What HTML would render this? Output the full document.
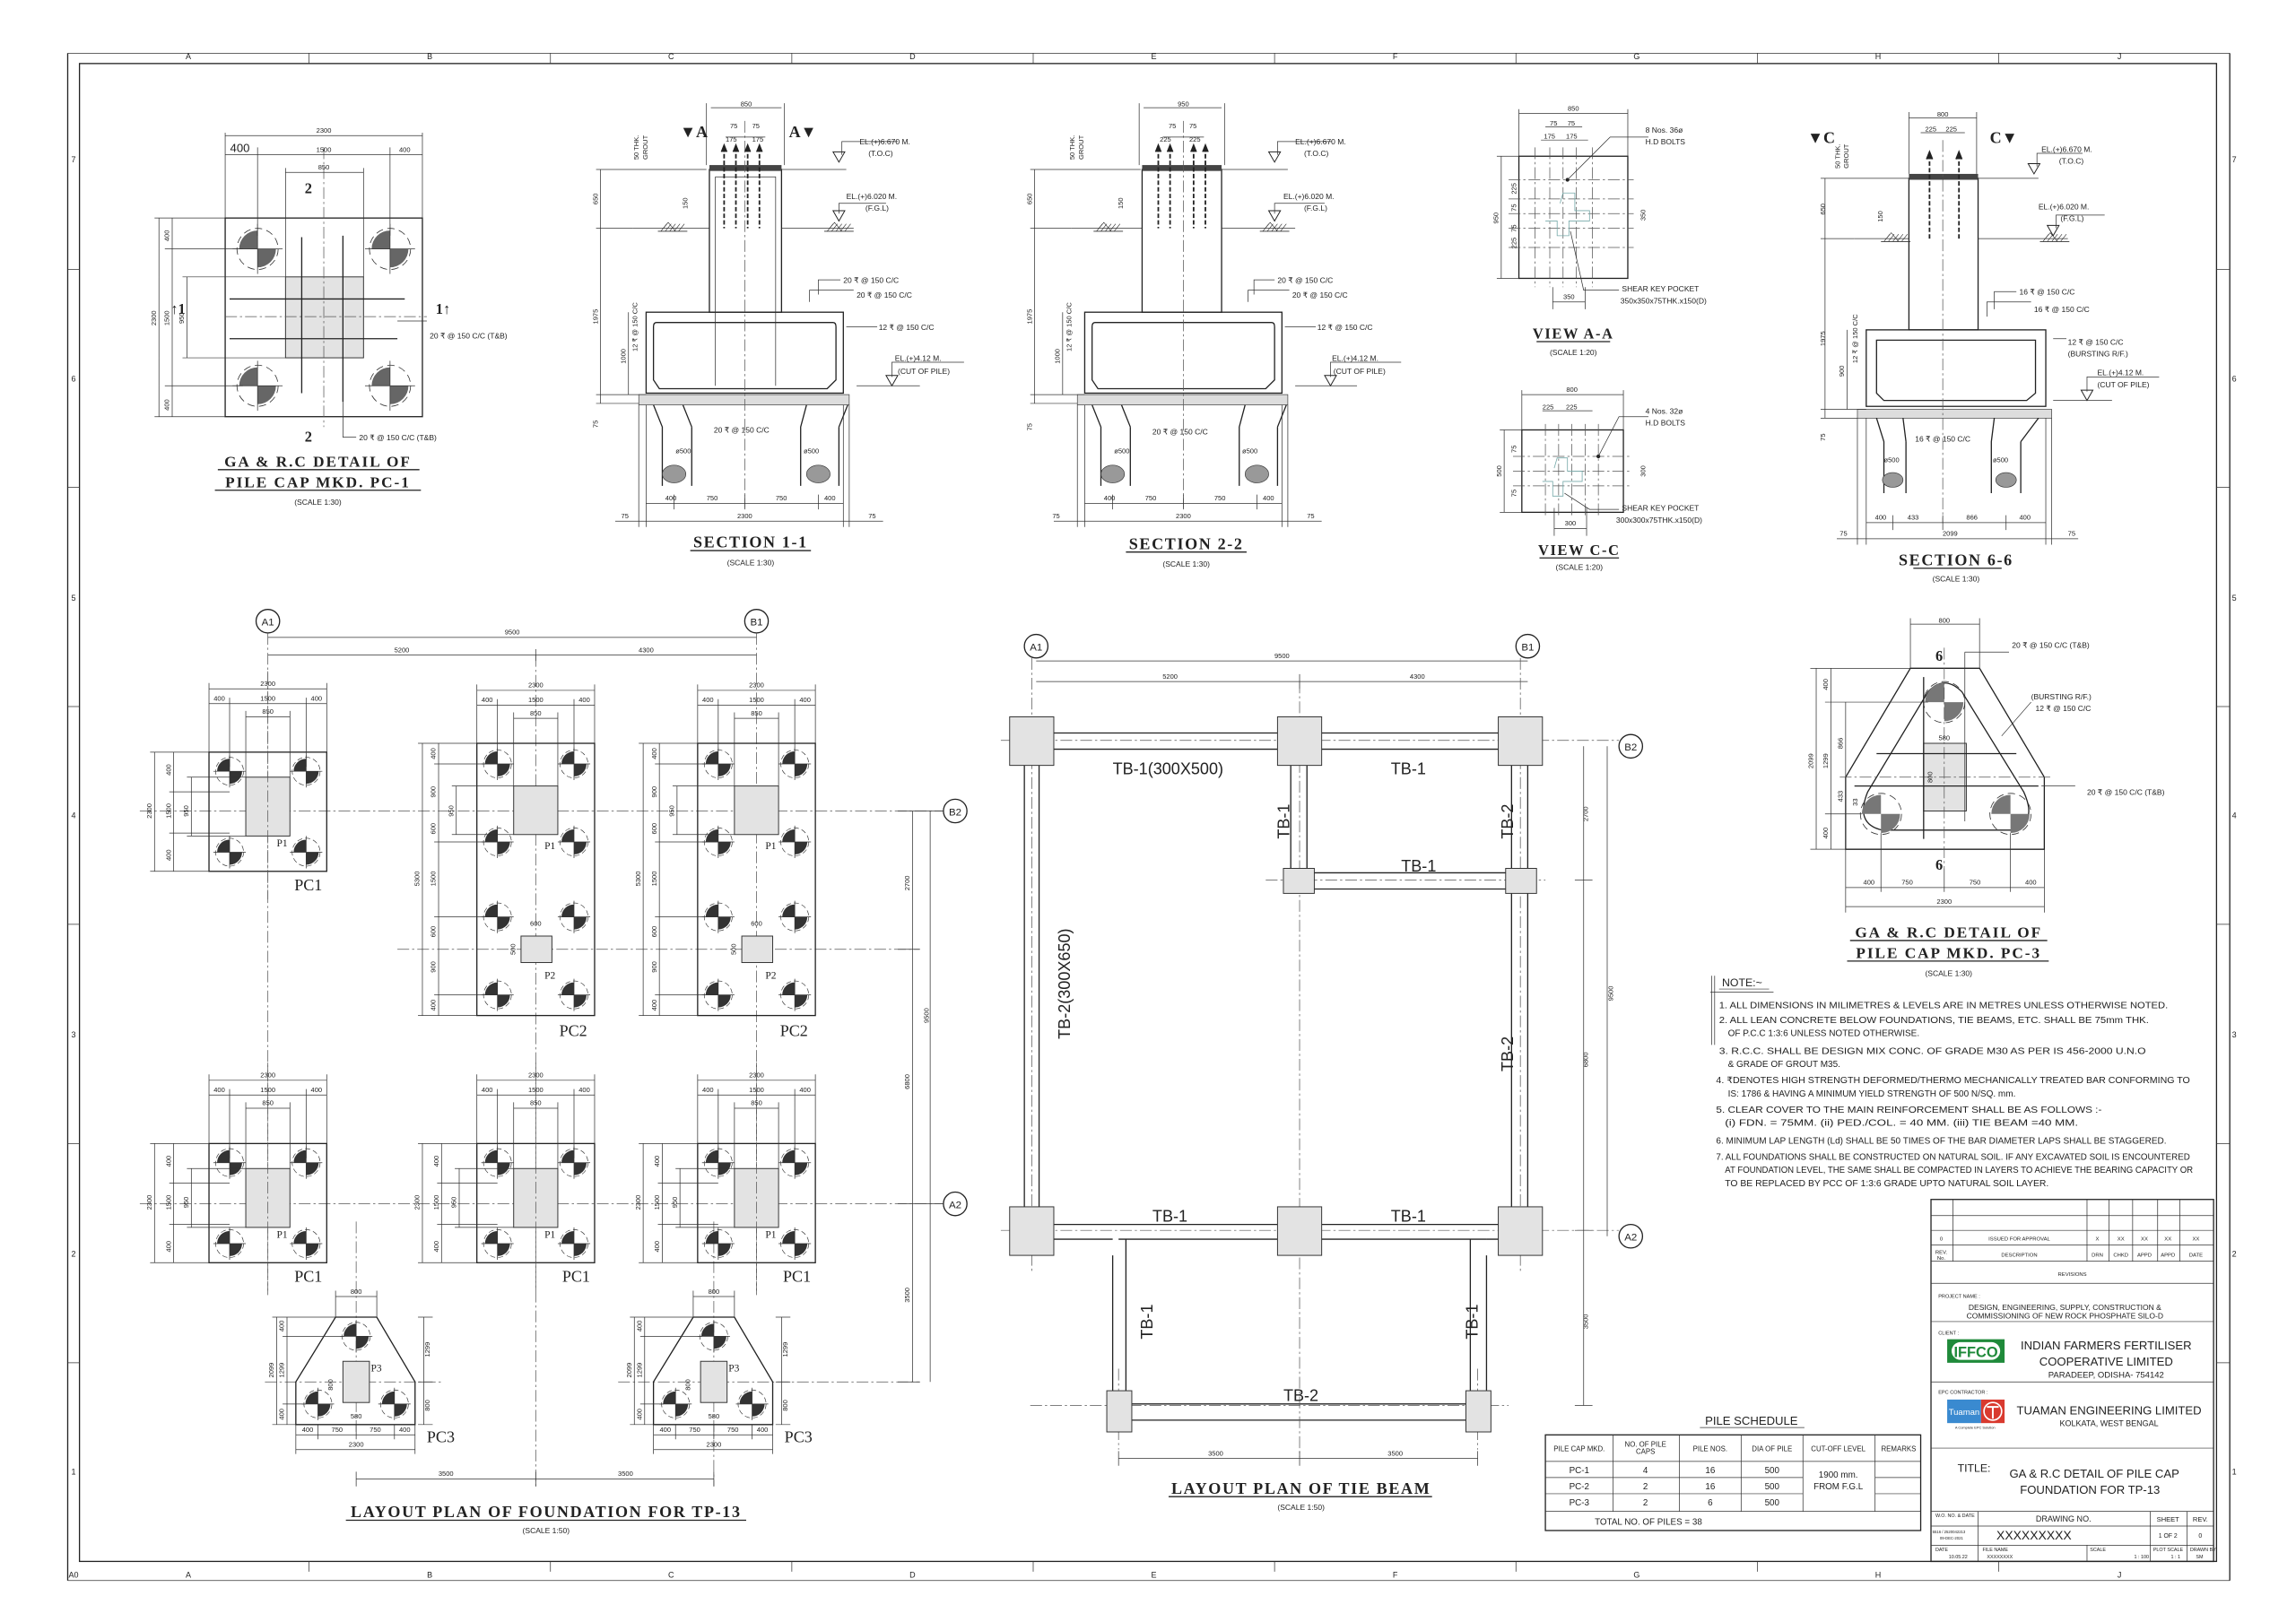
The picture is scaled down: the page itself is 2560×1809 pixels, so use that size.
<!DOCTYPE html>
<html><head><meta charset="utf-8"><style>
html,body{margin:0;padding:0;background:#fff;}
svg{display:block;}
text{font-family:"Liberation Sans",sans-serif;fill:#222;}
.s{font-family:"Liberation Serif",serif;}
.ln{stroke:#222;stroke-width:.8;fill:none;}
.th{stroke:#333;stroke-width:.45;fill:none;}
.cl{stroke:#555;stroke-width:.45;fill:none;stroke-dasharray:8 2 1.5 2;}
.dsh{stroke:#444;stroke-width:.5;fill:none;stroke-dasharray:3 2;}
.col{fill:#e3e3e3;stroke:#333;stroke-width:.6;}
.d{font-size:4.6px;}
.t{font-size:5.2px;}
</style></head><body>
<svg width="2560" height="1809" viewBox="0 0 1560 1102" xmlns="http://www.w3.org/2000/svg">
<defs>
<g id="pl"><circle r="14" fill="none" stroke="#333" stroke-width=".5" stroke-dasharray="5 3"/><path d="M0,0H-12.5A12.5,12.5 0 0 1 0,-12.5Z M0,0H12.5A12.5,12.5 0 0 1 0,12.5Z" fill="#666"/><path d="M-17,0H17M0,-17V17" stroke="#333" stroke-width=".45"/></g>
<g id="plS"><circle r="9.5" fill="none" stroke="#333" stroke-width=".4" stroke-dasharray="3.5 2"/><path d="M0,0H-8.5A8.5,8.5 0 0 1 0,-8.5Z M0,0H8.5A8.5,8.5 0 0 1 0,8.5Z" fill="#333"/><path d="M-11,0H11M0,-11V11" stroke="#333" stroke-width=".45"/></g>
<g id="hat"><path d="M-10,0H10" stroke="#333" stroke-width=".5"/><path d="M-8,0L-4,-5M-5,0L-1,-5M-2,0L2,-5M1,0L5,-5M4,0L8,-5M-8,0L-3,-6L2,0" stroke="#333" stroke-width=".4" fill="none"/></g>
<g id="pc1">
<rect x="-40" y="-40" width="80" height="81" class="ln"/>
<rect x="-15" y="-23" width="30" height="40" class="col"/>
<use href="#plS" x="-26" y="-27"/><use href="#plS" x="26" y="-27"/><use href="#plS" x="-26" y="28"/><use href="#plS" x="26" y="28"/>
<path d="M0,-95V60" class="cl"/>
<path d="M-40,-83H40M-40,-73H40M-15,-64H15M-40,-87V-40M40,-87V-40M-26,-77V-30M26,-77V-30M-15,-68V-23M15,-68V-23" class="th"/>
<text x="0" y="-85" class="d" text-anchor="middle">2300</text>
<text x="0" y="-75" class="d" text-anchor="middle">1500</text>
<text x="-33" y="-75" class="d" text-anchor="middle">400</text><text x="33" y="-75" class="d" text-anchor="middle">400</text>
<text x="0" y="-66" class="d" text-anchor="middle">850</text>
<path d="M-77,-40V41M-64,-40V41M-52,-23V17M-80,-40H-40M-80,41H-40M-67,-13H-26M-67,15H-26M-55,-23H-15M-55,17H-15" class="th"/>
<text transform="translate(-79,0) rotate(-90)" class="d" text-anchor="middle">2300</text>
<text transform="translate(-66,0) rotate(-90)" class="d" text-anchor="middle">1500</text>
<text transform="translate(-54,0) rotate(-90)" class="d" text-anchor="middle">950</text>
<text transform="translate(-66,-28) rotate(-90)" class="d" text-anchor="middle">400</text>
<text transform="translate(-66,30) rotate(-90)" class="d" text-anchor="middle">400</text>
<text x="6" y="24" class="s" font-size="7">P1</text>
</g>
<g id="pc2">
<rect x="-40" y="0" width="80" height="185" class="ln"/>
<rect x="-15" y="29" width="30" height="33" class="col"/>
<rect x="-10" y="131" width="21" height="18" class="col"/>
<use href="#plS" x="-26" y="14"/><use href="#plS" x="26" y="14"/><use href="#plS" x="-26" y="67"/><use href="#plS" x="26" y="67"/>
<use href="#plS" x="-26" y="118"/><use href="#plS" x="26" y="118"/><use href="#plS" x="-26" y="171"/><use href="#plS" x="26" y="171"/>
<path d="M-40,-36H40M-40,-26H40M-15,-17H15M-40,-40V0M40,-40V0M-26,-30V5M26,-30V5M-15,-21V29M15,-21V29" class="th"/>
<text x="0" y="-38" class="d" text-anchor="middle">2300</text><text x="0" y="-28" class="d" text-anchor="middle">1500</text>
<text x="-33" y="-28" class="d" text-anchor="middle">400</text><text x="33" y="-28" class="d" text-anchor="middle">400</text>
<text x="0" y="-19" class="d" text-anchor="middle">850</text>
<text x="0" y="124" class="d" text-anchor="middle">600</text>
<path d="M-77,0V185M-66,0V185M-54,29V62M-80,0H-40M-80,185H-40M-69,14H-26M-69,67H-26M-69,118H-26M-69,171H-26M-57,29H-15M-57,62H-15" class="th"/>
<text transform="translate(-79,92) rotate(-90)" class="d" text-anchor="middle">5300</text>
<text transform="translate(-68,92) rotate(-90)" class="d" text-anchor="middle">1500</text>
<text transform="translate(-68,7) rotate(-90)" class="d" text-anchor="middle">400</text>
<text transform="translate(-68,33) rotate(-90)" class="d" text-anchor="middle">900</text>
<text transform="translate(-68,58) rotate(-90)" class="d" text-anchor="middle">600</text>
<text transform="translate(-68,128) rotate(-90)" class="d" text-anchor="middle">600</text>
<text transform="translate(-68,152) rotate(-90)" class="d" text-anchor="middle">900</text>
<text transform="translate(-68,178) rotate(-90)" class="d" text-anchor="middle">400</text>
<text transform="translate(-56,46) rotate(-90)" class="d" text-anchor="middle">950</text>
<text transform="translate(-14,140) rotate(-90)" class="d" text-anchor="middle">500</text>
<text x="6" y="72" class="s" font-size="7">P1</text>
<text x="6" y="160" class="s" font-size="7">P2</text>
<text x="16" y="199" class="s" font-size="11">PC2</text>
</g>
<g id="pc3">
<path d="M-14,0H14L40,44V73H-41V44Z" class="ln"/>
<rect x="-9" y="30" width="18" height="28" class="col"/>
<use href="#plS" x="0" y="13"/><use href="#plS" x="-26" y="59"/><use href="#plS" x="26" y="59"/>
<path d="M-14,-14H14M-14,-18V0M14,-18V0" class="th"/>
<text x="0" y="-16" class="d" text-anchor="middle">800</text>
<path d="M-54,0V73M-47,0V73M-57,0H-14M-57,73H-41M-50,13H-8M-50,59H-34M46,0V73M42,0H52M42,44H52M42,73H52" class="th"/>
<text transform="translate(-56,36) rotate(-90)" class="d" text-anchor="middle">2099</text>
<text transform="translate(-49,36) rotate(-90)" class="d" text-anchor="middle">1299</text>
<text transform="translate(-49,6) rotate(-90)" class="d" text-anchor="middle">400</text>
<text transform="translate(-49,66) rotate(-90)" class="d" text-anchor="middle">400</text>
<text transform="translate(50,22) rotate(-90)" class="d" text-anchor="middle">1299</text>
<text transform="translate(50,60) rotate(-90)" class="d" text-anchor="middle">800</text>
<text transform="translate(-16,46) rotate(-90)" class="d" text-anchor="middle">800</text>
<path d="M-41,80H40M-41,90H40M-41,73V93M40,73V93M-26,73V83M0,73V83M26,73V83" class="th"/>
<text x="-33" y="78" class="d" text-anchor="middle">400</text><text x="-13" y="78" class="d" text-anchor="middle">750</text>
<text x="13" y="78" class="d" text-anchor="middle">750</text><text x="33" y="78" class="d" text-anchor="middle">400</text>
<text x="0" y="88" class="d" text-anchor="middle">2300</text>
<text x="0" y="69" class="d" text-anchor="middle">580</text>
<text x="10" y="37" class="s" font-size="7">P3</text>
<text x="48" y="85" class="s" font-size="11">PC3</text>
</g>
</defs>

<path d="M46,36V1074" class="ln"/>
<path d="M1515,36V1074" class="ln"/>
<rect x="54" y="43" width="1452" height="1018" class="ln" stroke-width="1"/>
<path d="M46,36H1515M46,1074H1515" class="th"/>
<path d="M210,36V43M374,36V43M538,36V43M702,36V43M866,36V43M1030,36V43M1194,36V43M1358,36V43M210,1061V1068M374,1061V1068M538,1061V1068M702,1061V1068M866,1061V1068M1030,1061V1068M1194,1061V1068M1358,1061V1068" class="th"/>
<path d="M46,183H54M46,331H54M46,480H54M46,628H54M46,777H54M46,926H54M1506,183H1515M1506,331H1515M1506,480H1515M1506,628H1515M1506,777H1515M1506,926H1515" class="th"/>
<g font-size="5.5" text-anchor="middle">
<text x="128" y="40">A</text><text x="292" y="40">B</text><text x="456" y="40">C</text><text x="620" y="40">D</text><text x="784" y="40">E</text><text x="948" y="40">F</text><text x="1112" y="40">G</text><text x="1276" y="40">H</text><text x="1440" y="40">J</text>
<text x="128" y="1072">A</text><text x="292" y="1072">B</text><text x="456" y="1072">C</text><text x="620" y="1072">D</text><text x="784" y="1072">E</text><text x="948" y="1072">F</text><text x="1112" y="1072">G</text><text x="1276" y="1072">H</text><text x="1440" y="1072">J</text>
<text x="50" y="110">7</text><text x="50" y="259">6</text><text x="50" y="408">5</text><text x="50" y="556">4</text><text x="50" y="705">3</text><text x="50" y="854">2</text><text x="50" y="1002">1</text>
<text x="1518" y="110">7</text><text x="1518" y="259">6</text><text x="1518" y="408">5</text><text x="1518" y="556">4</text><text x="1518" y="705">3</text><text x="1518" y="854">2</text><text x="1518" y="1002">1</text>
<text x="50" y="1072">A0</text>
</g>

<g>
<rect x="153" y="148" width="134" height="135" class="ln"/>
<rect x="194" y="188" width="53" height="55" class="col"/>
<use href="#pl" x="175" y="169"/><use href="#pl" x="265" y="169"/><use href="#pl" x="175" y="262"/><use href="#pl" x="265" y="262"/>
<path d="M153,215H290M220,100V290" class="cl"/>
<path d="M156,203H275M205,161V267M156,230H270M233,160V273" class="ln" stroke-width=".9"/>
<path d="M153,92H287M153,105H287M194,117H247M153,90V148M287,90V148M175,100V160M265,100V160M194,114V188M247,114V188" class="th"/>
<text x="220" y="90" class="d" text-anchor="middle">2300</text><text x="220" y="103" class="d" text-anchor="middle">1500</text>
<text x="163" y="103" font-size="8" text-anchor="middle">400</text><text x="275" y="103" class="d" text-anchor="middle">400</text>
<text x="220" y="115" class="d" text-anchor="middle">850</text>
<path d="M108,148V283M117,148V283M127,188V243M105,148H153M105,283H153M112,169H165M112,262H165M124,188H194M124,243H194" class="th"/>
<text transform="translate(106,216) rotate(-90)" class="d" text-anchor="middle">2300</text>
<text transform="translate(115,216) rotate(-90)" class="d" text-anchor="middle">1500</text>
<text transform="translate(125,216) rotate(-90)" class="d" text-anchor="middle">950</text>
<text transform="translate(115,160) rotate(-90)" class="d" text-anchor="middle">400</text>
<text transform="translate(115,275) rotate(-90)" class="d" text-anchor="middle">400</text>
<text x="116" y="213" class="s" font-size="10" font-weight="bold">↑1</text>
<text x="296" y="213" class="s" font-size="10" font-weight="bold">1↑</text>
<text x="207" y="131" class="s" font-size="10" font-weight="bold">2</text>
<text x="207" y="300" class="s" font-size="10" font-weight="bold">2</text>
<path d="M270,218H290M233,273V297H242" class="th"/>
<text x="292" y="230" class="t">20 ₹ @ 150  C/C (T&amp;B)</text>
<text x="244" y="299" class="t">20 ₹ @ 150  C/C (T&amp;B)</text>
<text x="216" y="317" class="s" font-size="10.5" font-weight="bold" text-anchor="middle" letter-spacing="1.2">GA &amp; R.C DETAIL OF</text>
<text x="216" y="331" class="s" font-size="10.5" font-weight="bold" text-anchor="middle" letter-spacing="1.2">PILE CAP MKD. PC-1</text>
<path d="M148,319H285M146,333H286" class="ln"/>
<text x="216" y="343" class="t" text-anchor="middle">(SCALE 1:30)</text>
</g>

<g id="sec1">
<rect x="482" y="115" width="49" height="97" fill="#f4f4f4" class="ln"/>
<rect x="482" y="112" width="49" height="4" fill="#444"/>
<rect x="439" y="212" width="134" height="55" fill="#f4f4f4" class="ln"/>
<path d="M446,219H566Q568,219 568,222V258L562,264H448L444,258V222Q444,219 446,219Z" class="ln" stroke-width=".9"/>
<path d="M486,120H527V262M486,120V262" class="th"/>
<rect x="434" y="268" width="143" height="7" fill="#ddd" stroke="#333" stroke-width=".4"/>
<path d="M444,275L450,290V330M470,290V330M464,275L470,290M548,275L544,290V330M570,290V330M576,275L570,290" class="ln"/>
<ellipse cx="458" cy="322" rx="8" ry="6" fill="#999" stroke="#333" stroke-width=".4"/>
<ellipse cx="556" cy="322" rx="8" ry="6" fill="#999" stroke="#333" stroke-width=".4"/>
<path d="M492,100V155M500,100V155M508,100V155M516,100V155" stroke="#222" stroke-width="1.1" stroke-dasharray="3 1.5"/>
<path d="M490,103L492,98L494,103M498,103L500,98L502,103M506,103L508,98L510,103M514,103L516,98L518,103" fill="#222" stroke="#222" stroke-width=".6"/>
<path d="M506,82V345" class="cl"/>
<path d="M430,155H482M531,155H580M531,115H575" class="th"/>
<use href="#hat" x="457" y="157"/><use href="#hat" x="570" y="157"/>
<path d="M570,150L566,143H574Z M570,110L566,103H574Z" fill="#fff" stroke="#222" stroke-width=".6"/>
<path d="M572,105V96H610M570,145V138H602" class="th"/>
<text x="584" y="98" class="t">EL.(+)6.670  M.</text><text x="590" y="106" class="t">(T.O.C)</text>
<text x="575" y="135" class="t">EL.(+)6.020  M.</text><text x="588" y="143" class="t">(F.G.L)</text>
<path d="M606,262L602,255H610Z" fill="#fff" stroke="#222" stroke-width=".6"/>
<path d="M582,262H625M606,256V246H655" class="th"/>
<text x="608" y="245" class="t">EL.(+)4.12  M.</text><text x="610" y="254" class="t">(CUT OF PILE)</text>
<path d="M556,200V190H571M550,205V197H580M575,222H596" class="th"/>
<text x="573" y="192" class="t">20 ₹ @ 150  C/C</text><text x="582" y="202" class="t">20 ₹ @ 150  C/C</text><text x="597" y="224" class="t">12 ₹ @ 150  C/C</text>
<text x="485" y="294" class="t">20 ₹ @ 150  C/C</text>
<path d="M483,73H531M480,70V112M533,70V112M493,93H520" class="th"/>
<text x="507" y="72" class="d" text-anchor="middle">850</text>
<text x="496" y="87" class="d">75</text><text x="511" y="87" class="d">75</text><text x="493" y="96" class="d">175</text><text x="511" y="96" class="d">175</text>
<text x="462" y="93" class="s" font-size="11" font-weight="bold">▼A</text>
<text x="536" y="93" class="s" font-size="11" font-weight="bold">A▼</text>
<path d="M408,115V274M427,212V268M405,115H480M405,155H430M405,274H434M405,268H439" class="th"/>
<text transform="translate(406,135) rotate(-90)" class="d" text-anchor="middle">650</text>
<text transform="translate(406,215) rotate(-90)" class="d" text-anchor="middle">1975</text>
<text transform="translate(425,242) rotate(-90)" class="d" text-anchor="middle">1000</text>
<text transform="translate(433,222) rotate(-90)" class="d" text-anchor="middle">12 ₹ @ 150  C/C</text>
<text transform="translate(406,288) rotate(-90)" class="d" text-anchor="middle">75</text>
<text transform="translate(467,138) rotate(-90)" class="d" text-anchor="middle">150</text>
<text transform="translate(434,100) rotate(-90)" class="d" text-anchor="middle">50 THK.</text>
<text transform="translate(440,100) rotate(-90)" class="d" text-anchor="middle">GROUT</text>
<text x="459" y="308" class="d">ø500</text><text x="546" y="308" class="d">ø500</text>
<path d="M439,342H573M434,354H578M439,275V358M573,275V358M434,275V358M577,275V358M458,336V346M506,336V346M556,336V346M418,354H600" class="th"/>
<text x="452" y="340" class="d">400</text><text x="480" y="340" class="d">750</text><text x="527" y="340" class="d">750</text><text x="560" y="340" class="d">400</text>
<text x="506" y="352" class="d" text-anchor="middle">2300</text><text x="422" y="352" class="d">75</text><text x="590" y="352" class="d">75</text>
<text x="510" y="372" class="s" font-size="11" font-weight="bold" text-anchor="middle" letter-spacing="1">SECTION 1-1</text>
<path d="M469,374H551" class="ln"/>
<text x="510" y="384" class="t" text-anchor="middle">(SCALE 1:30)</text>
</g>
<g>
<rect x="776" y="115" width="54" height="97" fill="#f4f4f4" class="ln"/>
<rect x="776" y="112" width="54" height="4" fill="#444"/>
<rect x="737" y="212" width="134" height="55" fill="#f4f4f4" class="ln"/>
<path d="M744,219H864Q866,219 866,222V258L860,264H746L742,258V222Q742,219 744,219Z" class="ln" stroke-width=".9"/>
<rect x="732" y="268" width="143" height="7" fill="#ddd" stroke="#333" stroke-width=".4"/>
<path d="M742,275L748,290V330M768,290V330M762,275L768,290M846,275L842,290V330M868,290V330M874,275L868,290" class="ln"/>
<ellipse cx="756" cy="322" rx="8" ry="6" fill="#999" stroke="#333" stroke-width=".4"/>
<ellipse cx="854" cy="322" rx="8" ry="6" fill="#999" stroke="#333" stroke-width=".4"/>
<path d="M787,100V155M795,100V155M811,100V155M819,100V155" stroke="#222" stroke-width="1.1" stroke-dasharray="3 1.5"/>
<path d="M785,103L787,98L789,103M793,103L795,98L797,103M809,103L811,98L813,103M817,103L819,98L821,103" fill="#222" stroke="#222" stroke-width=".6"/>
<path d="M804,82V345" class="cl"/>
<path d="M728,155H776M830,155H880M830,115H875" class="th"/>
<use href="#hat" x="753" y="157"/><use href="#hat" x="866" y="157"/>
<path d="M866,150L862,143H870Z M866,110L862,103H870Z" fill="#fff" stroke="#222" stroke-width=".6"/>
<path d="M868,105V96H905M866,145V138H900" class="th"/>
<text x="880" y="98" class="t">EL.(+)6.670  M.</text><text x="886" y="106" class="t">(T.O.C)</text>
<text x="872" y="135" class="t">EL.(+)6.020  M.</text><text x="886" y="143" class="t">(F.G.L)</text>
<path d="M904,262L900,255H908Z" fill="#fff" stroke="#222" stroke-width=".6"/>
<path d="M880,262H922M904,256V246H952" class="th"/>
<text x="905" y="245" class="t">EL.(+)4.12  M.</text><text x="906" y="254" class="t">(CUT OF PILE)</text>
<path d="M852,200V190H866M848,205V197H876M873,222H894" class="th"/>
<text x="868" y="192" class="t">20 ₹ @ 150  C/C</text><text x="878" y="202" class="t">20 ₹ @ 150  C/C</text><text x="895" y="224" class="t">12 ₹ @ 150  C/C</text>
<text x="783" y="295" class="t">20 ₹ @ 150  C/C</text>
<path d="M777,73H830M774,70V112M832,70V112M790,93H818" class="th"/>
<text x="804" y="72" class="d" text-anchor="middle">950</text>
<text x="794" y="87" class="d">75</text><text x="808" y="87" class="d">75</text><text x="788" y="96" class="d">225</text><text x="808" y="96" class="d">225</text>
<path d="M703,115V274M722,212V268M700,115H775M700,155H728M700,274H732M700,268H737" class="th"/>
<text transform="translate(701,135) rotate(-90)" class="d" text-anchor="middle">650</text>
<text transform="translate(701,215) rotate(-90)" class="d" text-anchor="middle">1975</text>
<text transform="translate(720,242) rotate(-90)" class="d" text-anchor="middle">1000</text>
<text transform="translate(728,222) rotate(-90)" class="d" text-anchor="middle">12 ₹ @ 150  C/C</text>
<text transform="translate(701,290) rotate(-90)" class="d" text-anchor="middle">75</text>
<text transform="translate(763,138) rotate(-90)" class="d" text-anchor="middle">150</text>
<text transform="translate(730,100) rotate(-90)" class="d" text-anchor="middle">50 THK.</text>
<text transform="translate(736,100) rotate(-90)" class="d" text-anchor="middle">GROUT</text>
<text x="757" y="308" class="d">ø500</text><text x="844" y="308" class="d">ø500</text>
<path d="M737,342H871M732,354H876M737,275V358M871,275V358M732,275V358M875,275V358M756,336V346M804,336V346M854,336V346M716,354H898" class="th"/>
<text x="750" y="340" class="d">400</text><text x="778" y="340" class="d">750</text><text x="825" y="340" class="d">750</text><text x="858" y="340" class="d">400</text>
<text x="804" y="352" class="d" text-anchor="middle">2300</text><text x="715" y="352" class="d">75</text><text x="888" y="352" class="d">75</text>
<text x="806" y="373" class="s" font-size="11" font-weight="bold" text-anchor="middle" letter-spacing="1">SECTION 2-2</text>
<path d="M765,375H847" class="ln"/>
<text x="806" y="385" class="t" text-anchor="middle">(SCALE 1:30)</text>
</g>

<g>
<rect x="1032" y="106" width="74" height="83" class="ln"/>
<path d="M1043,100V195M1053,100V195M1062,100V195M1071,100V195M1082,100V195M1025,122H1110M1025,135H1110M1025,145H1110M1025,155H1110M1025,168H1110" class="cl"/>
<path d="M1060,138L1062,131H1070V143H1080V150H1066V160H1058V150H1050" fill="none" stroke="#7aa" stroke-width=".5"/>
<path d="M1032,77H1106M1032,74V106M1106,74V106M1050,86H1075M1047,95H1079" class="th"/>
<text x="1069" y="75" class="d" text-anchor="middle">850</text>
<text x="1053" y="85" class="d">75</text><text x="1065" y="85" class="d">75</text><text x="1049" y="94" class="d">175</text><text x="1064" y="94" class="d">175</text>
<circle cx="1065" cy="122" r="1.3" fill="#222"/>
<path d="M1065,122L1094,93H1120" class="th"/>
<text x="1118" y="90" class="t">8 Nos. 36ø</text><text x="1118" y="98" class="t">H.D BOLTS</text>
<path d="M1020,106V189M1017,106H1032M1017,189H1032" class="th"/>
<text transform="translate(1018,148) rotate(-90)" class="d" text-anchor="middle">950</text>
<text transform="translate(1030,128) rotate(-90)" class="d" text-anchor="middle">225</text>
<text transform="translate(1030,141) rotate(-90)" class="d" text-anchor="middle">75</text>
<text transform="translate(1030,155) rotate(-90)" class="d" text-anchor="middle">75</text>
<text transform="translate(1030,165) rotate(-90)" class="d" text-anchor="middle">225</text>
<text transform="translate(1118,146) rotate(-90)" class="d" text-anchor="middle">350</text>
<path d="M1067,157L1076,197H1100" class="th"/>
<text x="1102" y="198" class="t">SHEAR KEY POCKET</text><text x="1101" y="206" class="t">350x350x75THK.x150(D)</text>
<path d="M1055,205H1077M1055,195V210M1077,195V210" class="th"/>
<text x="1066" y="203" class="d" text-anchor="middle">350</text>
<text x="1069" y="230" class="s" font-size="10" font-weight="bold" text-anchor="middle" letter-spacing="1">VIEW A-A</text>
<path d="M1044,232H1094" class="ln"/>
<text x="1069" y="241" class="t" text-anchor="middle">(SCALE 1:20)</text>
</g>
<g>
<rect x="1034" y="292" width="69" height="56" class="ln"/>
<path d="M1050,288V352M1059,288V352M1068,288V352M1077,288V352M1086,288V352M1028,310H1108M1028,320H1108M1028,330H1108" class="cl"/>
<path d="M1056,318L1058,311H1065V320H1075V327H1062V337H1055V327H1048" fill="none" stroke="#7aa" stroke-width=".5"/>
<path d="M1034,268H1103M1034,265V292M1103,265V292M1048,279H1082" class="th"/>
<text x="1068" y="266" class="d" text-anchor="middle">800</text>
<text x="1048" y="278" class="d">225</text><text x="1064" y="278" class="d">225</text>
<circle cx="1086" cy="310" r="1.3" fill="#222"/>
<path d="M1086,310L1100,283H1120" class="th"/>
<text x="1118" y="281" class="t">4 Nos. 32ø</text><text x="1118" y="289" class="t">H.D BOLTS</text>
<path d="M1022,292V348M1019,292H1034M1019,348H1034" class="th"/>
<text transform="translate(1020,320) rotate(-90)" class="d" text-anchor="middle">500</text>
<text transform="translate(1030,305) rotate(-90)" class="d" text-anchor="middle">75</text>
<text transform="translate(1030,335) rotate(-90)" class="d" text-anchor="middle">75</text>
<text transform="translate(1118,320) rotate(-90)" class="d" text-anchor="middle">300</text>
<path d="M1063,335L1080,346H1100" class="th"/>
<text x="1102" y="347" class="t">SHEAR KEY POCKET</text><text x="1098" y="355" class="t">300x300x75THK.x150(D)</text>
<path d="M1056,359H1078M1056,345V364M1078,345V364" class="th"/>
<text x="1067" y="357" class="d" text-anchor="middle">300</text>
<text x="1073" y="377" class="s" font-size="10" font-weight="bold" text-anchor="middle" letter-spacing="1">VIEW C-C</text>
<path d="M1046,379H1100" class="ln"/>
<text x="1073" y="387" class="t" text-anchor="middle">(SCALE 1:20)</text>
</g>

<g>
<rect x="1297" y="121" width="47" height="103" fill="#f4f4f4" class="ln"/>
<rect x="1297" y="118" width="47" height="4" fill="#444"/>
<rect x="1268" y="224" width="122" height="52" fill="#f4f4f4" class="ln"/>
<path d="M1275,231H1383V267L1377,272H1280L1275,267Z" class="ln" stroke-width=".9"/>
<rect x="1262" y="278" width="132" height="6" fill="#ddd" stroke="#333" stroke-width=".4"/>
<path d="M1275,284L1280,300V335M1295,300V335M1293,284L1295,300M1355,284L1353,300V335M1373,300V335M1385,284L1373,300" class="ln"/>
<ellipse cx="1286" cy="326" rx="7" ry="5" fill="#999" stroke="#333" stroke-width=".4"/>
<ellipse cx="1363" cy="326" rx="7" ry="5" fill="#999" stroke="#333" stroke-width=".4"/>
<path d="M1311,105V162M1331,105V162" stroke="#222" stroke-width="1.1" stroke-dasharray="3 1.5"/>
<path d="M1309,108L1311,103L1313,108M1329,108L1331,103L1333,108" fill="#222" stroke="#222"/>
<path d="M1320,95V355" class="cl"/>
<path d="M1260,162H1297M1344,162H1405M1344,121H1385" class="th"/>
<use href="#hat" x="1288" y="164"/><use href="#hat" x="1396" y="164"/>
<path d="M1395,160L1391,153H1399Z M1382,118L1378,111H1386Z" fill="#fff" stroke="#222" stroke-width=".6"/>
<path d="M1384,113V104H1415M1397,155V146H1430" class="th"/>
<text x="1387" y="103" class="t">EL.(+)6.670  M.</text><text x="1399" y="111" class="t">(T.O.C)</text>
<text x="1385" y="142" class="t">EL.(+)6.020  M.</text><text x="1400" y="150" class="t">(F.G.L)</text>
<path d="M1418,272L1414,265H1422Z" fill="#fff" stroke="#222" stroke-width=".6"/>
<path d="M1395,272H1435M1418,266V256H1467" class="th"/>
<text x="1425" y="255" class="t">EL.(+)4.12  M.</text><text x="1425" y="263" class="t">(CUT OF PILE)</text>
<path d="M1355,210V198H1370M1350,215V205H1380M1395,230H1404" class="th"/>
<text x="1372" y="200" class="t">16 ₹ @ 150  C/C</text><text x="1382" y="212" class="t">16 ₹ @ 150  C/C</text>
<text x="1405" y="234" class="t">12 ₹ @ 150  C/C</text><text x="1405" y="242" class="t">(BURSTING  R/F.)</text>
<text x="1320" y="300" class="t" text-anchor="middle">16 ₹ @ 150  C/C</text>
<path d="M1297,80H1343M1297,76V118M1343,76V118M1305,90H1335" class="th"/>
<text x="1320" y="79" class="d" text-anchor="middle">800</text>
<text x="1308" y="89" class="d">225</text><text x="1322" y="89" class="d">225</text>
<text x="1228" y="97" class="s" font-size="11" font-weight="bold">▼C</text>
<text x="1352" y="97" class="s" font-size="11" font-weight="bold">C▼</text>
<path d="M1240,121V284M1255,224V278M1237,121H1297M1237,162H1260M1237,284H1262M1237,278H1268" class="th"/>
<text transform="translate(1240,142) rotate(-90)" class="d" text-anchor="middle">650</text>
<text transform="translate(1240,230) rotate(-90)" class="d" text-anchor="middle">1975</text>
<text transform="translate(1253,252) rotate(-90)" class="d" text-anchor="middle">900</text>
<text transform="translate(1262,230) rotate(-90)" class="d" text-anchor="middle">12 ₹ @ 150  C/C</text>
<text transform="translate(1240,297) rotate(-90)" class="d" text-anchor="middle">75</text>
<text transform="translate(1279,147) rotate(-90)" class="d" text-anchor="middle">150</text>
<text transform="translate(1250,106) rotate(-90)" class="d" text-anchor="middle">50 THK.</text>
<text transform="translate(1256,106) rotate(-90)" class="d" text-anchor="middle">GROUT</text>
<text x="1280" y="314" class="d">ø500</text><text x="1354" y="314" class="d">ø500</text>
<path d="M1268,355H1390M1262,366H1394M1268,284V370M1390,284V370M1262,284V370M1394,284V370M1286,350V360M1320,350V360M1363,350V360M1248,366H1412" class="th"/>
<text x="1274" y="353" class="d">400</text><text x="1296" y="353" class="d">433</text><text x="1336" y="353" class="d">866</text><text x="1372" y="353" class="d">400</text>
<text x="1325" y="364" class="d" text-anchor="middle">2099</text><text x="1250" y="364" class="d">75</text><text x="1405" y="364" class="d">75</text>
<text x="1329" y="384" class="s" font-size="11" font-weight="bold" text-anchor="middle" letter-spacing="1">SECTION 6-6</text>
<path d="M1300,386H1360" class="ln"/>
<text x="1329" y="395" class="t" text-anchor="middle">(SCALE 1:30)</text>
</g>

<g>
<path d="M1298,454H1345L1389,528V577H1254V528Z" class="ln"/>
<path d="M1310,470Q1321,458 1333,470L1375,538Q1385,560 1366,564H1279Q1260,560 1269,538Z" class="ln"/>
<rect x="1307" y="505" width="29" height="46" class="col"/>
<circle cx="1321" cy="477" r="14" fill="none" stroke="#333" stroke-width=".5" stroke-dasharray="5 3"/>
<path d="M1321,477H1308A13,13 0 0 1 1321,464Z M1321,477H1334A13,13 0 0 1 1321,490Z" fill="#777"/>
<circle cx="1278" cy="553" r="14" fill="none" stroke="#333" stroke-width=".5" stroke-dasharray="5 3"/>
<path d="M1278,553H1265A13,13 0 0 1 1278,540Z M1278,553H1291A13,13 0 0 1 1278,566Z" fill="#777"/>
<circle cx="1366" cy="553" r="14" fill="none" stroke="#333" stroke-width=".5" stroke-dasharray="5 3"/>
<path d="M1366,553H1353A13,13 0 0 1 1366,540Z M1366,553H1379A13,13 0 0 1 1366,566Z" fill="#777"/>
<path d="M1321,440V590M1250,528H1395" class="cl"/>
<path d="M1260,534H1385M1307,460V570M1275,512H1370" class="ln"/>
<path d="M1298,424H1345M1298,420V454M1345,420V454M1335,443V558M1335,443H1365" class="th"/>
<text x="1321" y="423" class="d" text-anchor="middle">800</text>
<text x="1367" y="440" class="t">20 ₹ @ 150  C/C (T&amp;B)</text>
<text x="1380" y="475" class="t">(BURSTING  R/F.)</text><text x="1383" y="483" class="t">12 ₹ @ 150  C/C</text>
<path d="M1360,500L1380,477" class="th"/>
<path d="M1387,534H1410" class="th"/>
<text x="1418" y="540" class="t">20 ₹ @ 150  C/C (T&amp;B)</text>
<path d="M1234,454V577M1244,454V577M1254,477V577M1230,454H1298M1230,577H1254M1240,477H1310M1240,553H1265" class="th"/>
<text transform="translate(1232,517) rotate(-90)" class="d" text-anchor="middle">2099</text>
<text transform="translate(1242,517) rotate(-90)" class="d" text-anchor="middle">1299</text>
<text transform="translate(1242,465) rotate(-90)" class="d" text-anchor="middle">400</text>
<text transform="translate(1242,566) rotate(-90)" class="d" text-anchor="middle">400</text>
<text transform="translate(1252,505) rotate(-90)" class="d" text-anchor="middle">866</text>
<text transform="translate(1252,541) rotate(-90)" class="d" text-anchor="middle">433</text>
<text transform="translate(1262,545) rotate(-90)" class="d" text-anchor="middle">33</text>
<text transform="translate(1313,528) rotate(-90)" class="d" text-anchor="middle">800</text>
<text x="1321" y="503" class="d" text-anchor="middle">580</text>
<path d="M1254,603H1389M1254,616H1389M1254,577V620M1389,577V620M1278,566V606M1321,590V606M1366,566V606" class="th"/>
<text x="1266" y="601" class="d">400</text><text x="1292" y="601" class="d">750</text><text x="1338" y="601" class="d">750</text><text x="1376" y="601" class="d">400</text>
<text x="1321" y="614" class="d" text-anchor="middle">2300</text>
<text x="1315" y="449" class="s" font-size="10" font-weight="bold">6</text>
<text x="1315" y="591" class="s" font-size="10" font-weight="bold">6</text>
<text x="1324" y="637" class="s" font-size="10.5" font-weight="bold" text-anchor="middle" letter-spacing="1.2">GA &amp; R.C DETAIL OF</text>
<text x="1324" y="651" class="s" font-size="10.5" font-weight="bold" text-anchor="middle" letter-spacing="1.2">PILE CAP MKD. PC-3</text>
<path d="M1257,639H1391M1255,653H1392" class="ln"/>
<text x="1324" y="663" class="t" text-anchor="middle">(SCALE 1:30)</text>
</g>

<g font-size="6.1">
<text x="1170" y="670" font-size="7.5">NOTE:~</text>
<path d="M1168,672H1202M1162,674H1205M1163,663V710M1165,663V710" class="th"/>
<text x="1168" y="685" textLength="305" lengthAdjust="spacingAndGlyphs">1. ALL DIMENSIONS IN MILIMETRES &amp; LEVELS ARE IN METRES UNLESS OTHERWISE NOTED.</text>
<text x="1168" y="695" textLength="292" lengthAdjust="spacingAndGlyphs">2. ALL LEAN CONCRETE BELOW FOUNDATIONS, TIE BEAMS, ETC. SHALL BE 75mm THK.</text>
<text x="1174" y="704">OF P.C.C 1:3:6 UNLESS NOTED OTHERWISE.</text>
<text x="1168" y="716" textLength="290" lengthAdjust="spacingAndGlyphs">3. R.C.C. SHALL BE DESIGN MIX CONC. OF GRADE M30 AS PER IS 456-2000 U.N.O</text>
<text x="1174" y="725">&amp; GRADE OF GROUT M35.</text>
<text x="1166" y="736" textLength="322" lengthAdjust="spacingAndGlyphs">4. ₹DENOTES HIGH STRENGTH DEFORMED/THERMO MECHANICALLY TREATED BAR CONFORMING TO</text>
<text x="1174" y="745">IS: 1786 &amp; HAVING A MINIMUM YIELD STRENGTH OF 500 N/SQ. mm.</text>
<text x="1166" y="756" textLength="262" lengthAdjust="spacingAndGlyphs">5. CLEAR COVER TO THE MAIN REINFORCEMENT SHALL BE AS FOLLOWS :-</text>
<text x="1172" y="765" textLength="240" lengthAdjust="spacingAndGlyphs">(i) FDN. = 75MM. (ii) PED./COL. = 40 MM. (iii) TIE BEAM =40 MM.</text>
<text x="1166" y="777" textLength="306" lengthAdjust="spacingAndGlyphs">6. MINIMUM LAP LENGTH (Ld) SHALL BE 50 TIMES OF THE BAR DIAMETER LAPS SHALL BE STAGGERED.</text>
<text x="1166" y="788" textLength="322" lengthAdjust="spacingAndGlyphs">7. ALL FOUNDATIONS SHALL BE CONSTRUCTED ON NATURAL SOIL. IF ANY EXCAVATED SOIL IS ENCOUNTERED</text>
<text x="1172" y="797" textLength="318" lengthAdjust="spacingAndGlyphs">AT FOUNDATION LEVEL, THE SAME SHALL BE COMPACTED IN LAYERS TO ACHIEVE THE BEARING CAPACITY OR</text>
<text x="1172" y="806" textLength="220" lengthAdjust="spacingAndGlyphs">TO BE REPLACED BY PCC OF 1:3:6 GRADE UPTO NATURAL SOIL LAYER.</text>
</g>

<g>
<circle cx="182" cy="422" r="8" class="ln"/><text x="182" y="425" font-size="7" text-anchor="middle">A1</text>
<circle cx="514" cy="422" r="8" class="ln"/><text x="514" y="425" font-size="7" text-anchor="middle">B1</text>
<circle cx="649" cy="551" r="8" class="ln"/><text x="649" y="554" font-size="7" text-anchor="middle">B2</text>
<circle cx="649" cy="818" r="8" class="ln"/><text x="649" y="821" font-size="7" text-anchor="middle">A2</text>
<path d="M182,430V880M364,445V1010M514,430V880M242,830V975M485,830V1010" class="cl"/>
<path d="M95,551H641M95,818H641M270,645H625M180,939H300M420,939H625" class="cl"/>
<path d="M182,433H514M182,445H514M364,441V449" class="th"/>
<text x="348" y="431" class="d" text-anchor="middle">9500</text>
<text x="273" y="443" class="d" text-anchor="middle">5200</text><text x="439" y="443" class="d" text-anchor="middle">4300</text>
<path d="M620,551V939M632,551V939M610,551H641M610,645H625M610,818H641M610,939H625" class="th"/>
<text transform="translate(618,600) rotate(-90)" class="d" text-anchor="middle">2700</text>
<text transform="translate(631,690) rotate(-90)" class="d" text-anchor="middle">9500</text>
<text transform="translate(618,735) rotate(-90)" class="d" text-anchor="middle">6800</text>
<text transform="translate(618,880) rotate(-90)" class="d" text-anchor="middle">3500</text>
<use href="#pc1" x="182" y="551"/>
<text x="200" y="605" class="s" font-size="11">PC1</text>
<use href="#pc2" x="364" y="505"/>
<use href="#pc2" x="514" y="505"/>
<use href="#pc1" x="182" y="817"/><text x="200" y="871" class="s" font-size="11">PC1</text>
<use href="#pc1" x="364" y="817"/><text x="382" y="871" class="s" font-size="11">PC1</text>
<use href="#pc1" x="514" y="817"/><text x="532" y="871" class="s" font-size="11">PC1</text>
<use href="#pc3" x="242" y="895"/>
<use href="#pc3" x="485" y="895"/>
<path d="M242,1005H485M242,1000V1010M364,1000V1010M485,1000V1010" class="th"/>
<text x="303" y="1003" class="d" text-anchor="middle">3500</text><text x="425" y="1003" class="d" text-anchor="middle">3500</text>
<text x="371" y="1031" class="s" font-size="11" font-weight="bold" text-anchor="middle" letter-spacing="1">LAYOUT PLAN OF FOUNDATION FOR TP-13</text>
<path d="M235,1033H507" class="ln"/>
<text x="371" y="1042" class="t" text-anchor="middle">(SCALE 1:50)</text>
</g>

<g>
<circle cx="704" cy="439" r="8" class="ln"/><text x="704" y="442" font-size="7" text-anchor="middle">A1</text>
<circle cx="1038" cy="439" r="8" class="ln"/><text x="1038" y="442" font-size="7" text-anchor="middle">B1</text>
<circle cx="1108" cy="507" r="8" class="ln"/><text x="1108" y="510" font-size="7" text-anchor="middle">B2</text>
<circle cx="1108" cy="840" r="8" class="ln"/><text x="1108" y="843" font-size="7" text-anchor="middle">A2</text>
<path d="M704,449H1038M704,463H1038M883,458V468" class="th"/>
<text x="871" y="447" class="d" text-anchor="middle">9500</text>
<text x="795" y="461" class="d" text-anchor="middle">5200</text><text x="963" y="461" class="d" text-anchor="middle">4300</text>
<path d="M716,498H1018M716,509H1018M696,520V820M706,520V820M877,520V590M888,520V590M1027,520V820M1038,520V820M893,593H1023M893,604H1023M716,832H1018M760,842H1010M756,853V945M765,842V945M999,842V945M1010,853V945M769,954H996M769,965H996" class="ln" stroke-width=".65"/>
<path d="M716,842H756M1010,842H1018" class="ln" stroke-width=".65"/>
<path d="M680,503H1100M680,836H1100M700,955H1025M860,598H1050" class="cl"/>
<path d="M701,447V865M883,463V990M1033,447V865M760,930V985M1004,930V985" class="cl"/>
<rect x="686" y="487" width="30" height="33" class="col"/>
<rect x="868" y="487" width="30" height="33" class="col"/>
<rect x="1018" y="487" width="30" height="33" class="col"/>
<rect x="686" y="820" width="30" height="33" class="col"/>
<rect x="868" y="820" width="30" height="33" class="col"/>
<rect x="1018" y="820" width="30" height="33" class="col"/>
<rect x="872" y="590" width="21" height="17" class="col"/>
<rect x="1023" y="590" width="21" height="17" class="col"/>
<rect x="752" y="945" width="17" height="28" class="col"/>
<rect x="996" y="945" width="17" height="28" class="col"/>
<g font-size="11">
<text x="756" y="526">TB-1(300X500)</text>
<text x="945" y="526">TB-1</text>
<text x="952" y="592">TB-1</text>
<text x="783" y="830">TB-1</text>
<text x="945" y="830">TB-1</text>
<text x="872" y="952">TB-2</text>
<text transform="translate(727,706) rotate(-90)">TB-2(300X650)</text>
<text transform="translate(876,570) rotate(-90)">TB-1</text>
<text transform="translate(1028,570) rotate(-90)">TB-2</text>
<text transform="translate(1028,728) rotate(-90)">TB-2</text>
<text transform="translate(783,910) rotate(-90)">TB-1</text>
<text transform="translate(1004,910) rotate(-90)">TB-1</text>
</g>
<path d="M1076,507V955M1092,507V840M1070,598H1082M1070,836H1082M1070,955H1082" class="th"/>
<text transform="translate(1079,553) rotate(-90)" class="d" text-anchor="middle">2700</text>
<text transform="translate(1096,675) rotate(-90)" class="d" text-anchor="middle">9500</text>
<text transform="translate(1079,720) rotate(-90)" class="d" text-anchor="middle">6800</text>
<text transform="translate(1079,898) rotate(-90)" class="d" text-anchor="middle">3500</text>
<path d="M760,991H1004M760,986V996M883,986V996M1004,986V996" class="th"/>
<text x="826" y="989" class="d" text-anchor="middle">3500</text><text x="948" y="989" class="d" text-anchor="middle">3500</text>
<text x="884" y="1015" class="s" font-size="11" font-weight="bold" text-anchor="middle" letter-spacing="1">LAYOUT PLAN OF TIE BEAM</text>
<path d="M794,1017H973" class="ln"/>
<text x="884" y="1026" class="t" text-anchor="middle">(SCALE 1:50)</text>
</g>

<g>
<text x="1190" y="968" font-size="8" text-anchor="middle">PILE SCHEDULE</text>
<path d="M1155,970H1226" class="th"/>
<rect x="1050" y="975" width="255" height="65" class="ln"/>
<path d="M1050,993H1305M1050,1004H1225M1274,1004H1305M1050,1015H1225M1274,1015H1305M1050,1027H1305M1096,975V1027M1141,975V1027M1183,975V1027M1225,975V1027M1274,975V1027" class="th"/>
<g font-size="4.8" text-anchor="middle">
<text x="1073" y="986">PILE CAP MKD.</text><text x="1118" y="983">NO. OF PILE</text><text x="1118" y="988">CAPS</text>
<text x="1162" y="986">PILE NOS.</text><text x="1204" y="986">DIA OF PILE</text><text x="1249" y="986">CUT-OFF LEVEL</text><text x="1290" y="986">REMARKS</text>
</g>
<g font-size="6" text-anchor="middle">
<text x="1073" y="1001">PC-1</text><text x="1118" y="1001">4</text><text x="1162" y="1001">16</text><text x="1204" y="1001">500</text>
<text x="1073" y="1012">PC-2</text><text x="1118" y="1012">2</text><text x="1162" y="1012">16</text><text x="1204" y="1012">500</text>
<text x="1073" y="1023">PC-3</text><text x="1118" y="1023">2</text><text x="1162" y="1023">6</text><text x="1204" y="1023">500</text>
<text x="1249" y="1004">1900 mm.</text><text x="1249" y="1012">FROM F.G.L</text>
<text x="1120" y="1036">TOTAL NO. OF PILES = 38</text>
</g>
</g>

<g>
<rect x="1312" y="815" width="192" height="246" fill="#fff" class="ln"/>
<path d="M1312,826H1504M1312,836H1504M1312,846H1504M1312,857H1504M1312,872H1504M1312,898H1504M1312,939H1504M1312,984H1504M1312,1027H1504M1312,1037H1504M1312,1050H1504" class="th"/>
<path d="M1327,815V857M1418,815V857M1433,815V857M1449,815V857M1466,815V857M1481,815V857M1344,1027V1061M1461,1027V1061M1486,1027V1061M1418,1050V1061" class="th"/>
<g font-size="3.6" text-anchor="middle">
<text x="1319" y="843">0</text><text x="1372" y="843">ISSUED FOR APPROVAL</text><text x="1425" y="843">X</text><text x="1441" y="843">XX</text><text x="1457" y="843">XX</text><text x="1473" y="843">XX</text><text x="1492" y="843">XX</text>
<text x="1319" y="852">REV.</text><text x="1319" y="856">No.</text><text x="1372" y="854">DESCRIPTION</text><text x="1425" y="854">DRN</text><text x="1441" y="854">CHKD</text><text x="1457" y="854">APPD</text><text x="1473" y="854">APPD</text><text x="1492" y="854">DATE</text>
<text x="1408" y="867">REVISIONS</text>
</g>
<text x="1317" y="882" font-size="3.4">PROJECT NAME :</text>
<text x="1403" y="890" font-size="5.2" text-anchor="middle">DESIGN, ENGINEERING, SUPPLY, CONSTRUCTION &amp;</text>
<text x="1403" y="896" font-size="5.2" text-anchor="middle">COMMISSIONING OF NEW ROCK PHOSPHATE SILO-D</text>
<text x="1317" y="907" font-size="3.4">CLIENT :</text>
<rect x="1323" y="910" width="39" height="16" fill="#1f8a3a"/>
<rect x="1326" y="912" width="33" height="12" rx="6" fill="#fff"/>
<text x="1342.5" y="922" font-size="10" font-weight="bold" text-anchor="middle" textLength="30" lengthAdjust="spacingAndGlyphs" style="fill:#1f8a3a">IFFCO</text>
<text x="1431" y="917" font-size="8" text-anchor="middle">INDIAN FARMERS FERTILISER</text>
<text x="1431" y="928" font-size="8" text-anchor="middle">COOPERATIVE LIMITED</text>
<text x="1431" y="936" font-size="5.8" text-anchor="middle">PARADEEP, ODISHA- 754142</text>
<text x="1317" y="947" font-size="3.4">EPC CONTRACTOR :</text>
<rect x="1323" y="951" width="23" height="16" fill="#3a8ad0"/>
<text x="1334.5" y="961.5" font-size="5.8" text-anchor="middle" style="fill:#fff">Tuaman</text>
<rect x="1346" y="951" width="16" height="16" fill="#d93a2f"/>
<circle cx="1354" cy="959" r="6" fill="none" stroke="#fff" stroke-width="1"/>
<path d="M1350,956H1358M1354,956V964" stroke="#fff" stroke-width="1.2"/>
<text x="1342" y="971" font-size="2.4" text-anchor="middle">A Complete EPC Solution</text>
<text x="1433" y="961" font-size="8" text-anchor="middle">TUAMAN ENGINEERING LIMITED</text>
<text x="1433" y="969" font-size="5.5" text-anchor="middle">KOLKATA, WEST BENGAL</text>
<text x="1330" y="1000" font-size="7.5">TITLE:</text>
<text x="1423" y="1004" font-size="8" text-anchor="middle">GA &amp; R.C DETAIL OF PILE CAP</text>
<text x="1420" y="1015" font-size="8" text-anchor="middle">FOUNDATION FOR TP-13</text>
<g font-size="3.3">
<text x="1315" y="1031">W.O. NO. &amp; DATE</text>
<text x="1313" y="1042" font-size="2.6">5516 / 2520042213</text><text x="1318" y="1046" font-size="2.6">09-DEC-2021</text>
<text x="1315" y="1054">DATE</text><text x="1324" y="1059">10.05.22</text>
<text x="1347" y="1054">FILE NAME</text><text x="1350" y="1059">XXXXXXXX</text>
<text x="1420" y="1054">SCALE</text><text x="1450" y="1059">1 : 100</text>
<text x="1463" y="1054">PLOT SCALE</text><text x="1475" y="1059">1 : 1</text>
<text x="1488" y="1054">DRAWN BY</text><text x="1492" y="1059">SM</text>
</g>
<text x="1402" y="1034" font-size="5.5" text-anchor="middle">DRAWING NO.</text>
<text x="1473" y="1034" font-size="4.6" text-anchor="middle">SHEET</text>
<text x="1495" y="1034" font-size="4.6" text-anchor="middle">REV.</text>
<text x="1382" y="1046" font-size="8.5" text-anchor="middle">XXXXXXXXX</text>
<text x="1473" y="1045" font-size="4.2" text-anchor="middle">1 OF 2</text>
<text x="1495" y="1045" font-size="4.2" text-anchor="middle">0</text>
</g>
</svg>
</body></html>
